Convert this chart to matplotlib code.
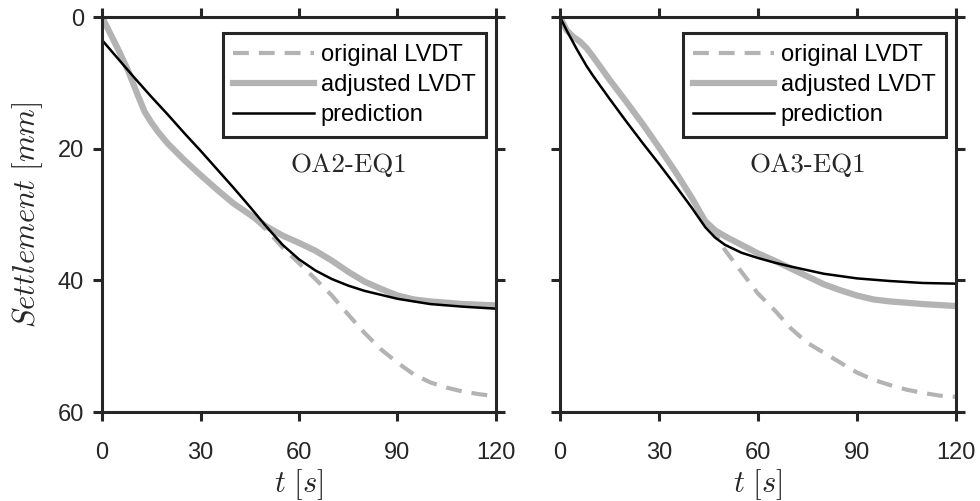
import matplotlib
matplotlib.use("Agg")
import matplotlib.pyplot as plt

plt.rcParams["font.family"] = ["Liberation Sans", "DejaVu Sans"]
plt.rcParams["mathtext.fontset"] = "cm"

# OA2-EQ1 (left panel)
t_adj_l = [0, 2, 5, 8, 11, 13, 15, 17, 20, 25, 30, 35, 40, 45, 50, 55, 60, 65, 70, 75, 80, 85, 90, 95, 100, 110, 120]
s_adj_l = [0, 2, 5, 8.2, 12.0, 14.4, 16.0, 17.4, 19.2, 21.7, 24, 26.2, 28.3, 30, 31.8, 33.2, 34.3, 35.5, 37.0, 38.7, 40.2, 41.3, 42.3, 42.9, 43.2, 43.6, 43.8]

t_org_l = [0, 2, 5, 8, 11, 13, 15, 17, 20, 25, 30, 35, 40, 45, 50, 55, 60, 65, 70, 75, 80, 85, 90, 95, 100, 105, 110, 115, 120]
s_org_l = [0, 2, 5, 8.2, 12.0, 14.4, 16.0, 17.4, 19.2, 21.7, 24, 26.2, 28.3, 30, 32.3, 35.0, 37.4, 39.8, 42.3, 45.2, 48.0, 50.5, 52.5, 54.3, 55.5, 56.3, 56.9, 57.3, 57.6]

t_pre_l = [0, 5, 10, 15, 20, 25, 30, 35, 40, 45, 50, 55, 60, 65, 70, 75, 80, 90, 100, 110, 120]
s_pre_l = [3.5, 6.4, 9.3, 12.1, 14.8, 17.6, 20.3, 23.1, 25.9, 28.8, 31.8, 34.6, 36.8, 38.5, 39.8, 40.8, 41.6, 42.8, 43.6, 44.0, 44.3]

# OA3-EQ1 (right panel)
t_adj_r = [0, 2, 4, 6, 8, 10, 15, 20, 25, 30, 35, 40, 44, 47, 50, 55, 60, 65, 70, 75, 80, 85, 90, 95, 100, 110, 120]
s_adj_r = [0, 2.0, 3.0, 3.7, 4.7, 6.0, 9.5, 12.8, 16.2, 19.8, 23.5, 27.5, 31.0, 32.4, 33.3, 34.6, 35.9, 37.0, 38.2, 39.4, 40.6, 41.5, 42.3, 42.9, 43.2, 43.6, 43.9]

t_org_r = [0, 2, 4, 6, 8, 10, 15, 20, 25, 30, 35, 40, 44, 47, 50, 55, 60, 65, 70, 75, 80, 85, 90, 95, 100, 105, 110, 115, 120]
s_org_r = [0, 2.0, 3.0, 3.7, 4.7, 6.0, 9.5, 12.8, 16.2, 19.8, 23.5, 27.5, 31.0, 32.8, 35.4, 38.7, 42.0, 44.5, 47.3, 49.5, 51.0, 52.5, 54.0, 55.1, 55.9, 56.6, 57.1, 57.5, 57.7]

t_pre_r = [0, 2, 5, 8, 10, 15, 20, 25, 30, 35, 40, 44, 47, 50, 55, 60, 65, 70, 80, 90, 100, 110, 120]
s_pre_r = [0, 2.0, 4.8, 7.4, 8.9, 12.4, 15.8, 19.1, 22.3, 25.6, 29.0, 31.9, 33.5, 34.6, 35.8, 36.6, 37.3, 37.9, 39.0, 39.7, 40.1, 40.4, 40.5]

names = ["OA2-EQ1", "OA3-EQ1"]
xticks = [0, 30, 60, 90, 120]
yticks = [0, 20, 40, 60]

panels = [
    (t_org_l, s_org_l, t_adj_l, s_adj_l, t_pre_l, s_pre_l),
    (t_org_r, s_org_r, t_adj_r, s_adj_r, t_pre_r, s_pre_r),
]

fig = plt.figure(figsize=(9.8, 5.01), dpi=100)
ax_l = fig.add_axes([0.1041, 0.1776, 0.402, 0.7884])
ax_r = fig.add_axes([0.5714, 0.1776, 0.404, 0.7884])
dark = "#262626"
gray = "#b3b3b3"

for i, (ax, data) in enumerate(zip([ax_l, ax_r], panels)):
    to, so, ta, sa, tp, sp = data
    ax.plot(to, so, color=gray, lw=3, dashes=(3.8, 2.4), label="original LVDT")
    ax.plot(ta, sa, color=gray, lw=4.5, label="adjusted LVDT")
    ax.plot(tp, sp, color="black", lw=1.8, label="prediction")
    ax.set_xlim(0, 120)
    ax.set_ylim(60, 0)
    ax.set_xticks(xticks)
    ax.set_yticks(yticks)
    ax.tick_params(direction="out", length=6.5, width=2.2, colors=dark,
                   labelsize=17, top=True, right=True)
    ax.tick_params(axis="x", pad=15)
    ax.tick_params(axis="y", pad=6.5)
    for sp_ in ax.spines.values():
        sp_.set_linewidth(2.2)
        sp_.set_color(dark)
    ax.set_xlabel(r"$t\ [s]$", fontsize=22, color=dark, labelpad=2)
    leg = ax.legend(loc="upper right", bbox_to_anchor=(0.975, 0.959), fontsize=17,
                    handlelength=3.4, handletextpad=0.3, labelspacing=0.34,
                    borderpad=0.45, fancybox=False, framealpha=1, borderaxespad=0)
    leg.get_frame().set_edgecolor(dark)
    leg.get_frame().set_linewidth(2.2)
    ax.text(0.627, 0.625, names[i], transform=ax.transAxes, fontsize=19.5,
            family="cmr10", ha="center", va="center", color=dark)

ax_l.set_ylabel(r"$Settlement\ [mm]$", fontsize=22, color=dark, labelpad=9)
ax_r.tick_params(labelleft=False)

fig.savefig("out.png", dpi=100)
